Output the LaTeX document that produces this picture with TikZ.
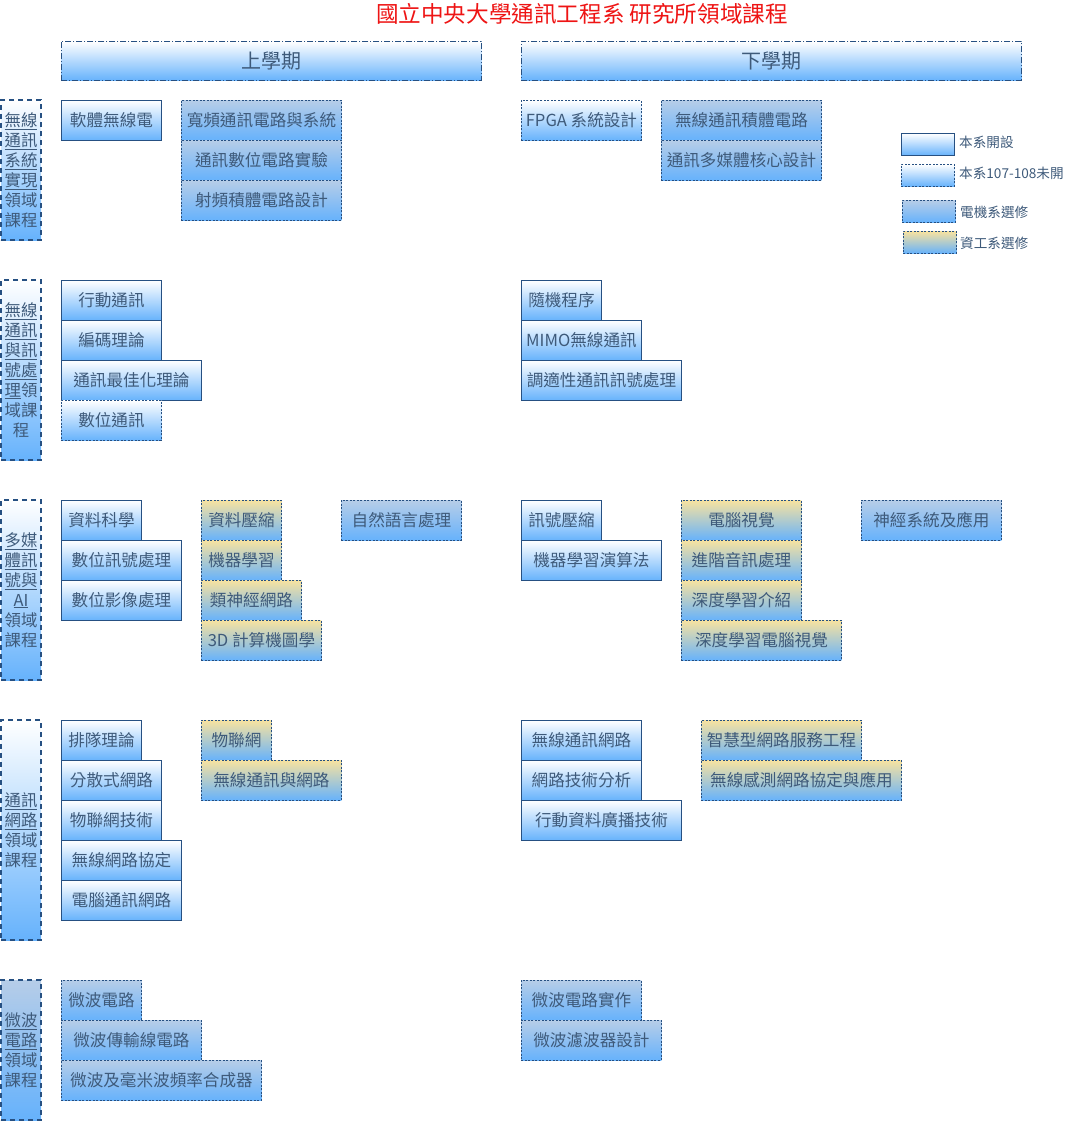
\documentclass[tikz,border=0pt]{standalone}
\usepackage{fontspec}
\setmainfont{Noto Sans CJK TC}
\definecolor{edgeblue}{RGB}{38,80,130}
\definecolor{textblue}{RGB}{62,90,122}
\definecolor{lowblue}{RGB}{102,178,252}
\definecolor{steeltop}{RGB}{182,205,232}
\definecolor{sandtop}{RGB}{247,226,160}
\definecolor{titlered}{RGB}{238,20,20}

\begin{document}
\begin{tikzpicture}[x=1pt,y=-1pt,
  course/.style={anchor=north west,inner sep=0pt,minimum height=40pt,
    text=textblue,font=\fontsize{16.6}{18}\selectfont,
    draw=edgeblue,line width=0.9pt,bottom color=lowblue},
  own/.style={course,top color=white,bottom color=lowblue},
  notopen/.style={course,top color=white,bottom color=lowblue,dash pattern=on 2pt off 1.5pt},
  ee/.style={course,top color=steeltop,bottom color=lowblue,dash pattern=on 2pt off 1.5pt},
  cs/.style={course,top color=sandtop,bottom color=lowblue,dash pattern=on 2pt off 1.5pt},
  term/.style={anchor=north west,inner sep=0pt,minimum height=39pt,
    text=textblue,font=\fontsize{20}{22}\selectfont,draw=edgeblue,line width=0.9pt,
    dash pattern=on 6pt off 2pt on 1pt off 2pt,top color=white,bottom color=lowblue},
  area/.style={inner sep=0pt,minimum width=40pt,align=center,text=textblue,
    font=\fontsize{16.4}{20}\selectfont,draw=edgeblue,line width=2.2pt,
    dash pattern=on 5pt off 4pt,top color=white,bottom color=lowblue},
  keytext/.style={anchor=west,inner sep=0pt,text=textblue,font=\fontsize{13.6}{15}\selectfont}]
\useasboundingbox (0,0) rectangle (1074,1122);

% title and semesters
\node [text=titlered,font=\fontsize{22.6}{24}\selectfont] (title) at (582,14) {國立中央大學通訊工程系 研究所領域課程};
\node [term,minimum width=420pt] (fall) at (61,41) {上學期};
\node [term,minimum width=500pt] (spring) at (521,41) {下學期};

% legend
\node [own,minimum width=53pt,minimum height=22pt] (keyown) at (901,133) {};
\node [notopen,minimum width=53pt,minimum height=22pt] (keynot) at (901,164) {};
\node [ee,minimum width=53pt,minimum height=22pt] (keyee) at (902,200) {};
\node [cs,minimum width=53pt,minimum height=22pt] (keycs) at (903,231) {};
\node [keytext] (keyownlbl) at (959,142) {本系開設};
\node [keytext] (keynotlbl) at (959,173) {本系107-108未開};
\node [keytext] (keyeelbl) at (960,212) {電機系選修};
\node [keytext] (keycslbl) at (960,243) {資工系選修};

% areas
\node [area,minimum height=140pt] (catsys) at (21,170) {\underline{無線}\\\underline{通訊}\\\underline{系統}\\\underline{實現}\\領域\\課程};
\node [area,minimum height=180pt] (catsig) at (21,370) {\underline{無線}\\\underline{通訊}\\\underline{與訊}\\\underline{號處}\\\underline{理}領\\域課\\程};
\node [area,minimum height=180pt] (catai) at (21,590) {\underline{多媒}\\\underline{體訊}\\\underline{號與}\\\underline{AI}\\領域\\課程};
\node [area,minimum height=220pt] (catnet) at (21,830) {\underline{通訊}\\\underline{網路}\\領域\\課程};
\node [area,top color=steeltop,bottom color=lowblue,minimum height=140pt] (catmw) at (21,1050) {\underline{微波}\\\underline{電路}\\領域\\課程};

% wireless systems
\node [own,minimum width=100pt] (sdr) at (61,100) {軟體無線電};
\node [ee,minimum width=160pt] (bbc) at (181,100) {寬頻通訊電路與系統};
\node [ee,minimum width=160pt] (cdl) at (181,140) {通訊數位電路實驗};
\node [ee,minimum width=160pt] (rfic) at (181,180) {射頻積體電路設計};
\node [notopen,minimum width=120pt] (fpga) at (521,100) {FPGA 系統設計};
\node [ee,minimum width=160pt] (wcic) at (661,100) {無線通訊積體電路};
\node [ee,minimum width=160pt] (mmcore) at (661,140) {通訊多媒體核心設計};

% wireless and signal processing
\node [own,minimum width=100pt] (mobile) at (61,280) {行動通訊};
\node [own,minimum width=100pt] (coding) at (61,320) {編碼理論};
\node [own,minimum width=140pt] (optim) at (61,360) {通訊最佳化理論};
\node [notopen,minimum width=100pt] (digcom) at (61,400) {數位通訊};
\node [own,minimum width=80pt] (random) at (521,280) {隨機程序};
\node [own,minimum width=120pt] (mimo) at (521,320) {MIMO無線通訊};
\node [own,minimum width=160pt] (adapt) at (521,360) {調適性通訊訊號處理};

% multimedia and AI
\node [own,minimum width=80pt] (datasci) at (61,500) {資料科學};
\node [own,minimum width=120pt] (dsp) at (61,540) {數位訊號處理};
\node [own,minimum width=120pt] (dip) at (61,580) {數位影像處理};
\node [cs,minimum width=80pt] (compress) at (201,500) {資料壓縮};
\node [cs,minimum width=80pt] (ml) at (201,540) {機器學習};
\node [cs,minimum width=100pt] (nn) at (201,580) {類神經網路};
\node [cs,minimum width=120pt] (graphics) at (201,620) {3D 計算機圖學};
\node [ee,minimum width=120pt] (nlp) at (341,500) {自然語言處理};
\node [own,minimum width=80pt] (sigcomp) at (521,500) {訊號壓縮};
\node [own,minimum width=140pt] (mlalgo) at (521,540) {機器學習演算法};
\node [cs,minimum width=120pt] (vision) at (681,500) {電腦視覺};
\node [cs,minimum width=120pt] (audio) at (681,540) {進階音訊處理};
\node [cs,minimum width=120pt] (dlintro) at (681,580) {深度學習介紹};
\node [cs,minimum width=160pt] (dlvision) at (681,620) {深度學習電腦視覺};
\node [ee,minimum width=140pt] (neuro) at (861,500) {神經系統及應用};

% networks
\node [own,minimum width=80pt] (queue) at (61,720) {排隊理論};
\node [own,minimum width=100pt] (distnet) at (61,760) {分散式網路};
\node [own,minimum width=100pt] (iottech) at (61,800) {物聯網技術};
\node [own,minimum width=120pt] (wlproto) at (61,840) {無線網路協定};
\node [own,minimum width=120pt] (compnet) at (61,880) {電腦通訊網路};
\node [cs,minimum width=70pt] (iot) at (201,720) {物聯網};
\node [cs,minimum width=140pt] (wcnet) at (201,760) {無線通訊與網路};
\node [own,minimum width=120pt] (wlnet) at (521,720) {無線通訊網路};
\node [own,minimum width=120pt] (netana) at (521,760) {網路技術分析};
\node [own,minimum width=160pt] (mobdata) at (521,800) {行動資料廣播技術};
\node [cs,minimum width=160pt] (smartnet) at (701,720) {智慧型網路服務工程};
\node [cs,minimum width=200pt] (wsn) at (701,760) {無線感測網路協定與應用};

% microwave
\node [ee,minimum width=80pt] (mwc) at (61,980) {微波電路};
\node [ee,minimum width=140pt] (mwtl) at (61,1020) {微波傳輸線電路};
\node [ee,minimum width=200pt] (mwsyn) at (61,1060) {微波及毫米波頻率合成器};
\node [ee,minimum width=120pt] (mwlab) at (521,980) {微波電路實作};
\node [ee,minimum width=140pt] (mwfilt) at (521,1020) {微波濾波器設計};
\end{tikzpicture}
\end{document}
